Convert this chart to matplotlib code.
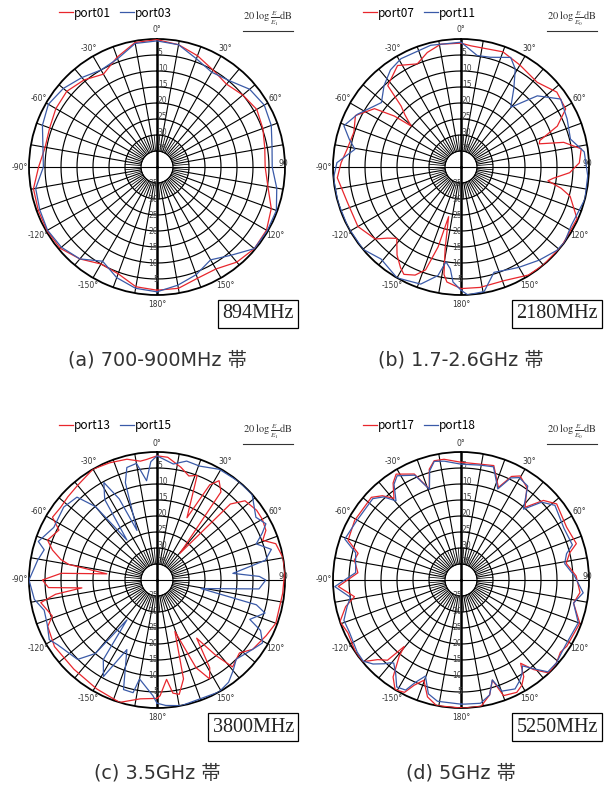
import numpy as np
import matplotlib
matplotlib.use("Agg")
import matplotlib.pyplot as plt
from matplotlib.lines import Line2D

# angles in degrees (clockwise from 0 at top), values = dB below maximum
a_angles = [-180, -170, -160, -150, -140, -130, -120, -110, -100, -90, -80, -70, -60,
            -50, -40, -30, -20, -10, 0, 10, 20, 30, 40, 50, 60, 70, 80, 90, 100, 110,
            120, 130, 140, 150, 160, 170, 180]
port01 = [1.5, 2.0, 4.5, 5.0, 2.5, 0.5, 0.3, 0.5, 0.8, 3.0, 4.5, 4.3, 3.5, 3.2, 4.5, 6.5,
          3.5, 0.5, 0.2, 1.2, 3.0, 5.0, 6.2, 5.0, 4.0, 4.8, 5.8, 6.2, 4.8, 2.0, 0.5, 0.3,
          1.2, 3.2, 3.0, 1.5, 1.5]
port03 = [1.0, 1.5, 3.2, 6.0, 2.5, 1.0, 0.5, 1.0, 1.5, 4.5, 3.8, 1.9, 0.8, 1.8, 3.5, 5.0,
          4.0, 0.8, 0.6, 1.2, 4.0, 5.8, 4.8, 2.2, 1.3, 2.0, 3.5, 4.0, 2.0, 0.3, 0.2, 0.3,
          4.0, 6.5, 4.2, 2.5, 1.0]

port07_angles = [-180, -173, -171, -169, -166, -164, -161, -157, -152, -149, -144, -138,
                 -134, -130, -120, -107, -95, -88, -81, -72, -64, -56, -52.6, -50.6, -47,
                 -44.5, -42, -32, -23, -16.4, -9.4, 0, 4.6, 20, 30, 42, 52, 61, 67, 71.4,
                 73.5, 76.5, 81.4, 88, 93, 97, 99, 102, 105, 114, 128, 140, 148, 159, 171, 180]
port07 = [2, 3.8, 6, 14, 24, 14, 6, 3.3, 2, 3.3, 6, 10, 8, 5, 2.8, 2.8, 1.2, 2.5, 4, 4.8,
          3.3, 7.4, 13.8, 19.8, 16, 13.3, 5.8, 2.6, 5, 2.7, 1.1, 1.3, 2, 1.7, 3.2, 4.4, 2,
          2.6, 7.3, 14, 14.5, 7, 2, 3, 6, 11, 12.5, 8, 4.7, 0.3, 0, 0, 0.2, 2, 1.9, 2]
port11_angles = [-180, -176, -174, -171, -168, -161, -150, -139, -130, -118, -106, -95,
                 -88, -80.5, -76, -70.6, -63, -51, -43.4, -36, -29, -14, 0, 8.3, 15, 24.4,
                 29, 34, 39.8, 47, 55.7, 65.7, 75.7, 83, 94, 104.6, 118, 126, 131, 140,
                 150, 154, 162.6, 169.5, 177, 180]
port11 = [1.5, 4, 8, 10, 5.3, 1.3, 0, 1.9, 0, 0, 0, 0, 1.2, 6.4, 4, 1.2, 3.7, 8, 5, 2.5,
          1.3, 0.8, 1, 4.8, 4.5, 2.4, 5, 10.5, 15.7, 7.4, 2.3, 3.6, 4.7, 1.2, 0.3, 0, 1, 0,
          0.3, 2, 3.8, 4.5, 5.5, 0.4, 0, 1.5]

port13_angles = [-180, -172, -163, -151, -137, -123, -113, -109, -101, -98, -96, -94, -90,
                 -86, -83, -80, -78, -74, -70, -63, -59, -53, -47, -40, -30, -22, -14, -8,
                 -5, 0, 5, 12, 17, 21, 25.7, 29, 32, 36, 40.7, 44, 48, 55, 60, 65.5, 69.4,
                 73, 80, 86, 96, 110, 117, 126, 131.5, 139, 142, 145.7, 149, 152, 156,
                 160.8, 165, 169, 172, 174.5, 178.5, 180]
port13 = [3, 2.5, 0, 1.1, 1.9, 1.8, 2.9, 5.4, 3, 8, 16.4, 6, 4.2, 10, 24.2, 12, 9.3, 6,
          3.6, 5.6, 1.9, 2.3, 1.9, 1.4, 0, 0.5, 1.1, 2.5, 2.2, 1.2, 1.5, 4, 6, 5, 18.4, 6,
          3.4, 6, 29, 7, 3, 2, 2, 2.6, 4.7, 1.2, 0, 0, 0.5, 0.5, 1.7, 3.1, 5.6, 4, 10, 18,
          8, 5, 10, 23, 8, 3.6, 4.3, 8.8, 3.8, 3]
port15_angles = [-180, -178, -170, -168, -163, -156.6, -151, -146, -143, -140, -135, -123,
                 -119, -112, -105, -99, -90, -80.6, -75, -72, -63, -52, -44, -40, -37, -33,
                 -28.6, -25, -22, -18, -15, -10, -6, -3, 0, 8, 14, 20.5, 29.4, 39.7, 48,
                 57.6, 62.7, 66, 70, 75, 79.7, 85, 88, 90, 95, 101, 104, 107, 113, 116,
                 120.8, 126, 135, 140, 145, 151, 160, 169, 176, 180]
port15 = [1.5, 3.8, 8.6, 4, 4.2, 16.3, 5.5, 10, 24.4, 10, 4.9, 2.9, 1.5, 3, 3.5, 1.2, 0,
          2.2, 3.5, 1, 3.8, 3, 4, 10, 24.4, 10, 5.3, 12, 23.3, 8, 3.6, 3, 8.8, 3, 1.2, 3.4,
          1.7, 2, 0.3, 0, 0, 3.4, 1.7, 4, 7, 3, 5.6, 16.2, 8, 6, 8, 26, 8, 4.7, 8.5, 4, 1.6,
          3.1, 5, 3, 1, 0, 0.5, 0, 0.7, 1.5]

d_angles = [-180, -169, -164, -159.7, -156, -153.3, -149, -145, -141, -139.5, -137.5,
            -133.7, -129.7, -124.8, -115, -109, -103, -98.9, -93, -86, -79.4, -75.5, -70.6,
            -60.7, -47.3, -43, -39.4, -35, -31.5, -23.8, -19.2, -16, -12.7, -8, 0, 9.6, 16,
            22, 26, 29.6, 35.4, 41.4, 46, 51.5, 63.4, 72.5, 76, 81, 88, 96, 101.6, 110, 122,
            126, 131, 136.6, 141, 144.4, 147, 150, 153.6, 159.8, 162.6, 166, 171, 178, 180]
port17 = [0, 0, 2, 6.6, 4, 0.7, 0, 3, 9.3, 12.7, 6, 4, 0, 0, 1, 0, 3, 6.3, 1.6, 7.7, 6.1,
          6.8, 2.6, 1.9, 1.9, 4, 7, 3, 1.2, 3.8, 9.9, 4, 1.8, 1.9, 3.2, 3.3, 2.8, 8.8, 4, 2.6,
          4.5, 9.7, 4.2, 1.8, 3.1, 2.2, 5, 6.7, 4, 2.6, 4.1, 0.5, 1, 1.6, 0.5, 0, 4, 8, 4, 2,
          0.8, 1.5, 7.2, 3, 0, 0, 0]
port18 = [1.2, 1.4, 3, 8, 5, 1.5, 1, 4.4, 6.6, 6, 4.5, 2, 0.3, 0.5, 1.5, 1.3, 3.5, 5, 0.5,
          7, 6.5, 6, 1.5, 2.5, 2.5, 4.5, 8, 3.5, 1.8, 4.2, 10, 4.5, 2, 2.5, 3.8, 3.6, 3.2,
          9.3, 4.5, 3.2, 4, 10.5, 5, 2.5, 4, 3.5, 6, 7.2, 4.5, 1.6, 4.1, 1, 1.5, 1.2, 0.5,
          0.5, 4.4, 7, 5, 3.5, 2, 3, 7.3, 3, 1, 1.2, 1.2]

ring_labels = [5, 10, 15, 20, 25, 30, 35]
angle_labels = [0, 30, 60, 90, 120, 150, 180, -150, -120, -90, -60, -30]

W, H = 608, 787
R_PX = 128
RMAX = 40          # outer ring = 0 dB, inner circle = 35 dB
RED = "#e8262c"
BLUE = "#3a5aa8"
CJK = ["Noto Sans CJK JP", "DejaVu Sans"]
CAPTION_FONT = ["DejaVu Sans", "Noto Sans CJK JP"]
plt.rcParams["mathtext.fontset"] = "stix"


def fx(x):
    return x / W


def fy(y):
    return 1 - y / H


def draw_grid(ax):
    full = np.linspace(0, 2 * np.pi, 361)
    for db in ring_labels:
        ax.plot(full, np.full_like(full, RMAX - db), color="black", lw=0.85, zorder=1)
    for d in range(0, 360, 5):
        if d % 90 == 0:
            continue
        th = np.deg2rad(d)
        if d % 10 == 0:
            ax.plot([th, th], [RMAX - 35, RMAX], color="black", lw=0.8, zorder=1)
        else:
            ax.plot([th, th], [RMAX - 35, RMAX - 30], color="black", lw=0.55, zorder=1)
    for d in (90, 270):
        ax.plot([np.deg2rad(d)] * 2, [0, RMAX], color="black", lw=0.8, zorder=1)
    for d in (0, 180):
        ax.plot([np.deg2rad(d)] * 2, [0, RMAX], color="black", lw=1.8, zorder=2)

    for db in ring_labels:
        ax.annotate(str(db), xy=(0, RMAX - db), xytext=(0.6, 1.8),
                    textcoords="offset points", ha="left", va="center",
                    fontsize=5.5, color="#444444", zorder=3)
        ax.annotate(str(db), xy=(np.pi, RMAX - db), xytext=(0.8, 0),
                    textcoords="offset points", ha="right", va="center",
                    fontsize=5.5, color="#444444", zorder=3)

    r_lab = RMAX * (1 + 9 / R_PX)
    for d in angle_labels:
        if d == 90:
            ax.text(np.deg2rad(88.6), RMAX * (1 - 2 / R_PX), "90", fontsize=5.5,
                    color="#333333", ha="center", va="center")
            continue
        ax.text(np.deg2rad(d), r_lab, f"{d}°", fontsize=5.5, color="#333333",
                ha="center", va="center")


def draw_panel(fig, cx, cy, series, names, freq, caption, sub):
    ax = fig.add_axes([fx(cx - R_PX), fy(cy + R_PX), 2 * R_PX / W, 2 * R_PX / H],
                      projection="polar")
    ax.set_theta_zero_location("N")
    ax.set_theta_direction(-1)
    ax.set_ylim(0, RMAX)
    ax.set_xticks([])
    ax.set_yticks([])
    ax.grid(False)
    ax.spines["polar"].set_linewidth(1.3)
    draw_grid(ax)

    handles = []
    for (ang, att), color, name in zip(series, (RED, BLUE), names):
        th = np.deg2rad(ang)
        r = RMAX - np.asarray(att, dtype=float)
        line, = ax.plot(th, r, color=color, lw=0.9, zorder=4, label=name)
        handles.append(line)

    # legend at the top left of each panel
    top = cy - 154
    ax.legend(handles=handles, loc="center left",
              bbox_to_anchor=(fx(cx - 98), fy(top)), bbox_transform=fig.transFigure,
              ncol=2, frameon=False, handlelength=1.15,
              handletextpad=0.1, columnspacing=0.8, borderpad=0, borderaxespad=0,
              prop={"family": CJK, "size": 8.5})

    # unit label with underline
    fig.text(fx(cx + 111), fy(top + 6), rf"$20\ \log\frac{{E}}{{E_{sub}}}\mathrm{{dB}}$",
             fontsize=7.5, ha="center", va="center", color="#333333")
    fig.add_artist(Line2D([fx(cx + 86), fx(cx + 136)], [fy(top + 18)] * 2,
                          color="#333333", lw=0.8))

    # frequency box, right edge aligned near the panel edge
    fig.text(fx(cx + 137), fy(cy + 147), freq, family="Liberation Serif", fontsize=14.5,
             ha="right", va="center", color="#222222",
             bbox=dict(boxstyle="square,pad=0.22", fc="white", ec="black", lw=0.9))

    # caption
    fig.text(fx(cx), fy(cy + 193), caption, family=CAPTION_FONT, fontsize=13.8,
             ha="center", va="center", color="#333333")


def main():
    fig = plt.figure(figsize=(W / 100, H / 100), dpi=100)
    fig.patch.set_facecolor("white")

    draw_panel(fig, 157, 167, [(a_angles, port01), (a_angles, port03)],
               ["port01", "port03"], "894MHz", "(a) 700-900MHz 帯", "1")
    draw_panel(fig, 461, 167, [(port07_angles, port07), (port11_angles, port11)],
               ["port07", "port11"], "2180MHz", "(b) 1.7-2.6GHz 帯", "0")
    draw_panel(fig, 157, 580, [(port13_angles, port13), (port15_angles, port15)],
               ["port13", "port15"], "3800MHz", "(c) 3.5GHz 帯", "1")
    draw_panel(fig, 461, 580, [(d_angles, port17), (d_angles, port18)],
               ["port17", "port18"], "5250MHz", "(d) 5GHz 帯", "0")

    fig.savefig("out.png", dpi=100)


if __name__ == "__main__":
    main()
